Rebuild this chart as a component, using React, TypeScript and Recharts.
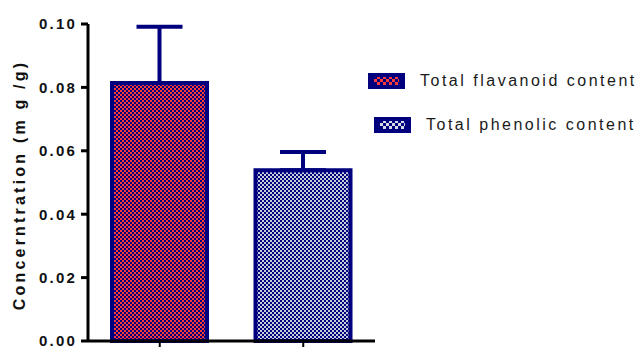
import { BarChart, Bar, XAxis, YAxis, ErrorBar, Cell } from 'recharts'

// mean concentration (mg/g) and upper SD for each assay
const categories = ['Total flavanoid content', 'Total phenolic content']
const means = [0.0814, 0.0539]
const upperErrors = [0.0177, 0.0057]
const yTicks = [0, 0.02, 0.04, 0.06, 0.08, 0.1]

const patternIds = ['checkRed', 'checkGrey']
const navy = '#00007f'
const font = '"Liberation Sans", Arial, sans-serif'

const data = categories.map((name, i) => ({
  name,
  value: means[i],
  err: [0, upperErrors[i]],
}))

function Patterns() {
  return (
    <svg width={0} height={0} style={{ position: 'absolute' }}>
      <defs>
        <pattern id="checkRed" width={4} height={4} patternUnits="userSpaceOnUse">
          <rect width={4} height={4} fill="#ff3b3b" />
          <rect width={2} height={2} fill={navy} />
          <rect x={2} y={2} width={2} height={2} fill={navy} />
        </pattern>
        <pattern id="checkGrey" width={4} height={4} patternUnits="userSpaceOnUse">
          <rect width={4} height={4} fill="#c9ccd9" />
          <rect width={2} height={2} fill={navy} />
          <rect x={2} y={2} width={2} height={2} fill={navy} />
        </pattern>
        <pattern id="swatchRed" width={6} height={6} patternUnits="userSpaceOnUse">
          <rect width={6} height={6} fill={navy} />
          <rect width={3} height={3} fill="#ff3b3b" />
          <rect x={3} y={3} width={3} height={3} fill="#ff3b3b" />
        </pattern>
        <pattern id="swatchGrey" width={6} height={6} patternUnits="userSpaceOnUse">
          <rect width={6} height={6} fill={navy} />
          <rect width={3} height={3} fill="#d8dae6" />
          <rect x={3} y={3} width={3} height={3} fill="#d8dae6" />
        </pattern>
      </defs>
    </svg>
  )
}

function LegendBox() {
  const swatches = ['swatchRed', 'swatchGrey']
  const offsets = [0, 6]
  return (
    <div style={{ position: 'absolute', left: 368, top: 59, fontFamily: font }}>
      {categories.map((c, i) => (
        <div
          key={c}
          style={{ display: 'flex', alignItems: 'center', height: 44, marginLeft: offsets[i] }}
        >
          <svg width={37} height={16}>
            <rect width={37} height={16} fill={navy} />
            <rect x={6} y={4} width={25} height={8} fill={`url(#${swatches[i]})`} />
          </svg>
          <span
            style={{
              marginLeft: 15,
              fontSize: 16,
              letterSpacing: 2.5,
              color: '#1a1a1a',
              whiteSpace: 'nowrap',
            }}
          >
            {c}
          </span>
        </div>
      ))}
    </div>
  )
}

function YTitle() {
  return (
    <text
      x={19}
      y={185}
      transform="rotate(-90 19 185)"
      textAnchor="middle"
      dominantBaseline="central"
      fontFamily={font}
      fontWeight="bold"
      fontSize={16}
      letterSpacing={3.2}
      fill="#111"
    >
      Concerntration (m g /g)
    </text>
  )
}

export default function App() {
  return (
    <div style={{ position: 'fixed', left: 0, top: 0, width: 638, height: 347, background: '#fff' }}>
      <Patterns />
      <BarChart
        width={638}
        height={347}
        data={data}
        margin={{ top: 24, right: 263, bottom: 0, left: 0 }}
      >
        <XAxis
          dataKey="name"
          height={6}
          interval={0}
          tick={() => <g />}
          tickSize={6}
          axisLine={{ stroke: '#000', strokeWidth: 3 }}
          tickLine={{ stroke: '#000', strokeWidth: 2 }}
        />
        <YAxis
          width={88}
          domain={[0, 0.1]}
          ticks={yTicks}
          interval={0}
          tickFormatter={(v: number) => v.toFixed(2)}
          tickSize={7}
          tickMargin={4}
          axisLine={{ stroke: '#000', strokeWidth: 3 }}
          tickLine={{ stroke: '#000', strokeWidth: 3 }}
          tick={{
            fill: '#111',
            fontFamily: font,
            fontWeight: 'bold',
            fontSize: 15,
            letterSpacing: 2.2,
          }}
          label={<YTitle />}
        />
        <Bar
          dataKey="value"
          barSize={95}
          stroke={navy}
          strokeWidth={4}
          isAnimationActive={false}
        >
          {data.map((d, i) => (
            <Cell key={d.name} fill={`url(#${patternIds[i]})`} />
          ))}
          <ErrorBar
            dataKey="err"
            width={23}
            stroke={navy}
            strokeWidth={4}
            direction="y"
            isAnimationActive={false}
          />
        </Bar>
      </BarChart>
      <LegendBox />
    </div>
  )
}
